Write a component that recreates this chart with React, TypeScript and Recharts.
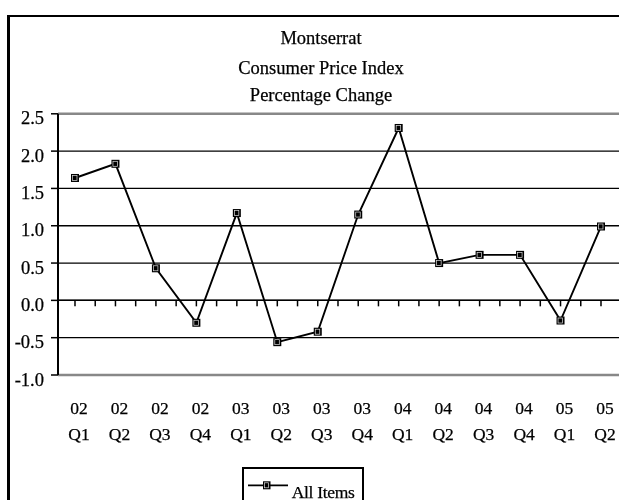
import React from "react"
import { CartesianGrid, Line, LineChart, ReferenceLine, XAxis, YAxis } from "recharts"

// quarterly CPI change, 2002 Q1 – 2005 Q2
const years = ["02", "02", "02", "02", "03", "03", "03", "03", "04", "04", "04", "04", "05", "05"]
const quarters = ["Q1", "Q2", "Q3", "Q4", "Q1", "Q2", "Q3", "Q4", "Q1", "Q2", "Q3", "Q4", "Q1", "Q2"]
const allItems = [1.64, 1.83, 0.43, -0.3, 1.17, -0.56, -0.42, 1.15, 2.31, 0.5, 0.61, 0.61, -0.27, 0.99]
const yTicks = [-1.0, -0.5, 0.0, 0.5, 1.0, 1.5, 2.0, 2.5]
const titleLines = ["Montserrat", "Consumer Price Index", "Percentage Change"]

const data = allItems.map((v, i) => ({ idx: i, value: v }))
const xTicks = data.map((d) => d.idx)
// small marks on the zero line every half quarter
const zeroTicks = Array.from({ length: 28 }, (_, k) => k * 0.5)

const FONT = "Liberation Serif, Times New Roman, serif"
// slight outline so the serif text reads as heavy as the original rendering
const INK = { fill: "#000", stroke: "#000", strokeWidth: 0.25, fontFamily: FONT }

function QuarterTick(props: any) {
  const { x, y, payload } = props
  const i = payload.value
  return (
    <g>
      <text x={x + 4} y={y + 38.5} textAnchor="middle" fontSize={17.5} {...INK}>
        {years[i]}
      </text>
      <text x={x + 4} y={y + 65} textAnchor="middle" fontSize={17.5} {...INK}>
        {quarters[i]}
      </text>
    </g>
  )
}

function ValueTick(props: any) {
  const { x, y, payload } = props
  return (
    <text x={x} y={y + 4} dy="0.355em" textAnchor="end" fontSize={18.5} {...INK}>
      {Number(payload.value).toFixed(1)}
    </text>
  )
}

function SquareDot(props: any) {
  const { cx, cy, index } = props
  if (cx == null || cy == null) return <g key={index} />
  return (
    <g key={index}>
      <rect x={cx - 4} y={cy - 4} width={8} height={8} fill="#000" />
      <rect x={cx - 2.5} y={cy - 2.5} width={4.5} height={5} fill="none" stroke="#ddd" strokeWidth={0.7} />
    </g>
  )
}

export default function App() {
  return (
    <div
      style={{
        position: "fixed",
        left: 7,
        top: 15,
        width: 612,
        height: 485,
        boxSizing: "border-box",
        borderLeft: "3px solid #000",
        borderTop: "2px solid #000",
        overflow: "hidden",
        fontFamily: FONT,
      }}
    >
      <svg width={609} height={110} style={{ position: "absolute", left: 0, top: 0 }}>
        {titleLines.map((t, i) => (
          <text key={t} x={311} y={[27, 57.3, 84][i]} textAnchor="middle" fontSize={18.5} {...INK}>
            {t}
          </text>
        ))}
      </svg>

      <LineChart width={609} height={481} data={data} margin={{ top: 96.8, right: 0, bottom: 0, left: 0 }}>
        <CartesianGrid horizontal vertical={false} stroke="#000" strokeWidth={1.3} />
        <XAxis
          type="number"
          dataKey="idx"
          domain={[-0.42, 13.445]}
          allowDataOverflow
          ticks={xTicks}
          interval={0}
          axisLine={false}
          tickLine={false}
          tickSize={0}
          tickMargin={0}
          height={123}
          tick={<QuarterTick />}
        />
        <YAxis
          domain={[-1, 2.5]}
          ticks={yTicks}
          interval={0}
          width={48}
          axisLine={{ stroke: "#000", strokeWidth: 2 }}
          tickLine={{ stroke: "#000", strokeWidth: 1.5 }}
          tickSize={7}
          tickMargin={7}
          tick={<ValueTick />}
        />
        <ReferenceLine y={2.5} stroke="#888" strokeWidth={2.5} />
        <ReferenceLine y={-1} stroke="#888" strokeWidth={2.5} />
        <ReferenceLine y={0} stroke="#000" strokeWidth={1.5} />
        {zeroTicks.map((k) => (
          <ReferenceLine
            key={k}
            segment={[
              { x: k, y: 0 },
              { x: k, y: -0.08 },
            ]}
            stroke="#000"
            strokeWidth={1.5}
            ifOverflow="hidden"
          />
        ))}
        <Line
          type="linear"
          dataKey="value"
          name="All Items"
          stroke="#000"
          strokeWidth={1.9}
          dot={(p: any) => <SquareDot key={p.index} {...p} />}
          activeDot={false}
          isAnimationActive={false}
        />
      </LineChart>

      <div
        style={{
          position: "absolute",
          left: 232,
          top: 449.7,
          width: 118,
          height: 50,
          border: "2px solid #000",
        }}
      >
        <svg width={118} height={40} style={{ position: "absolute", left: 0, top: 0 }}>
          <line x1={4} x2={44} y1={16.3} y2={16.3} stroke="#000" strokeWidth={1.8} />
          <rect x={19} y={12.3} width={7.5} height={8} fill="#000" />
          <rect x={20.5} y={13.8} width={4} height={5} fill="none" stroke="#ddd" strokeWidth={0.7} />
          <text x={47.7} y={28.7} fontSize={17.5} {...INK} letterSpacing={-0.3}>
            All Items
          </text>
        </svg>
      </div>
    </div>
  )
}
